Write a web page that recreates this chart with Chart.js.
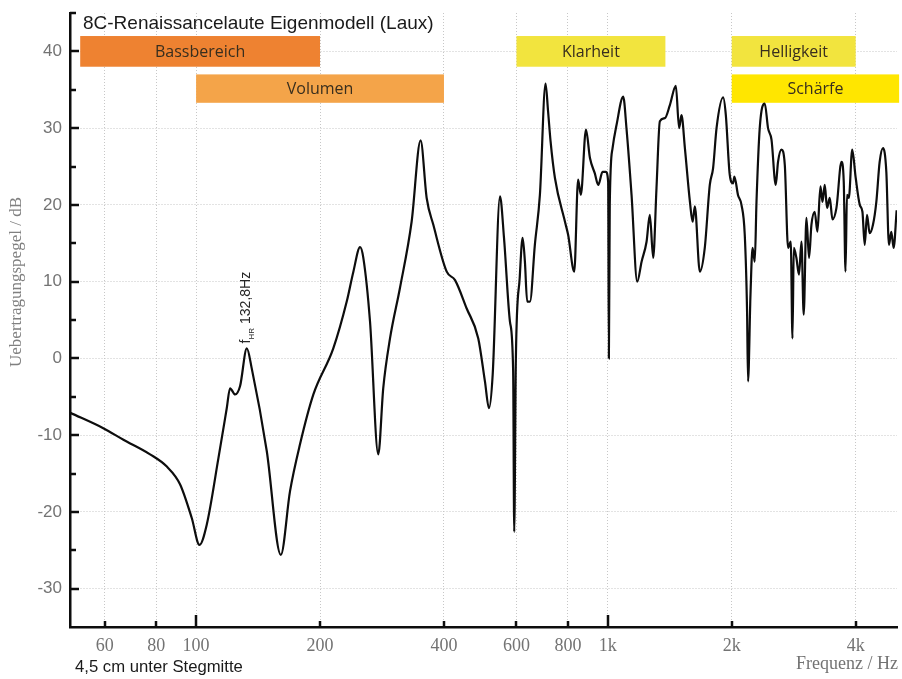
<!DOCTYPE html>
<html>
<head>
<meta charset="utf-8">
<title>8C-Renaissancelaute Eigenmodell (Laux)</title>
<script src="https://cdn.jsdelivr.net/npm/chart.js@4.4.1/dist/chart.umd.min.js"></script>
<style>
  body { margin: 0; background: #fff; }
  canvas { display: block; }
</style>
</head>
<body>
<canvas id="frequenzgang" width="902" height="679"></canvas>
<script>
const black = "hsl(0, 0%, 5%)"  //curve + axes
const grid_grey = "hsl(0, 0%, 78%)"  //dotted grid
const tick_grey = "hsl(0, 0%, 45%)"  //tick labels
const band_text = "hsl(35, 30%, 17%)"  //text in the coloured bars
const band_colors = ["#ee8231", "#f4a449", "#f2e43e", "#f2e43e", "#ffe600"]

//Data
const freq_hz = [
    49.5, 59.5, 66.6, 77.3, 84.9, 91.4, 97.6, 101.9, 106.1, 113.3,
    118.7, 120.9, 124.4, 127.9, 132.8, 136.5, 148.5, 160.6, 169.1, 178.8,
    192.7, 215.4, 232.2, 241, 250.2, 254.8, 264.5, 277, 284.8, 295.8,
    312.8, 333.8, 351, 363.1, 376.9, 406.2, 425.5, 454.2, 484.6, 503,
    514.5, 525.3, 547.2, 559.6, 578.5, 589, 592.5, 598, 611, 621,
    629, 637, 647, 665, 684, 706, 716, 726, 744, 787,
    801, 829, 847, 860, 885, 905, 930, 948, 971, 989,
    1002, 1006, 1011, 1027, 1050, 1090, 1110, 1142, 1179, 1208,
    1242, 1265, 1289, 1313, 1338, 1376, 1415, 1463, 1490, 1510,
    1539, 1583, 1607, 1627, 1673, 1720, 1769, 1802, 1837, 1906,
    1935, 1978, 2015, 2030, 2071, 2112, 2151, 2179, 2191, 2221,
    2247, 2275, 2297, 2339, 2406, 2450, 2498, 2558, 2591, 2641,
    2691, 2741, 2782, 2809, 2830, 2871, 2913, 2954, 2991, 3037,
    3082, 3123, 3181, 3229, 3285, 3322, 3365, 3408, 3460, 3513,
    3592, 3694, 3742, 3779, 3810, 3850, 3923, 4001, 4093, 4154,
    4207, 4262, 4325, 4406, 4490, 4574, 4660, 4748, 4818, 4882,
    4946, 5030
]
const level_db = [
    -7.1, -9.1, -10.6, -12.5, -14.1, -16.4, -20.8, -24.3, -21.7, -13.0,
    -6.5, -3.9, -4.7, -3.6, 1.3, -1.3, -12.1, -25.6, -17.3, -11.2,
    -4.7, 1.3, 7.4, 11.3, 14.5, 13.1, 4.8, -12.5, -3.9, 2.6,
    9.2, 17.8, 28.4, 20.9, 17.4, 11.3, 10.2, 6.5, 2.6, -3.0,
    -6.5, -2.1, 21.1, 15.7, 4.8, -1.7, -22.6, 0.0, 10.5, 15.7,
    12.6, 7.4, 7.4, 14.8, 21.3, 35.8, 32.2, 28.3, 23.5, 17.8,
    16.1, 11.3, 23.3, 21.3, 29.8, 26.1, 24.1, 22.6, 24.3, 24.3,
    23.0, 0.0, 20.0, 27.4, 30.4, 34.1, 30.0, 21.3, 10.0, 12.6,
    15.2, 18.7, 13.1, 22.2, 30.9, 31.3, 33.0, 35.5, 30.0, 31.7,
    27.4, 20.4, 17.8, 19.8, 11.3, 14.4, 22.6, 24.8, 30.0, 34.0,
    31.7, 23.9, 22.8, 23.7, 21.3, 20.0, 16.1, 6.1, -3.0, 8.3,
    14.4, 12.6, 20.4, 30.0, 33.2, 30.0, 28.5, 22.6, 25.6, 27.2,
    25.2, 14.4, 15.2, 2.6, 14.4, 13.1, 10.9, 15.2, 5.7, 18.3,
    13.1, 17.4, 19.1, 16.5, 22.4, 20.4, 22.6, 19.6, 20.9, 18.1,
    19.6, 25.6, 23.0, 11.3, 21.3, 20.9, 27.2, 23.5, 20.0, 19.1,
    14.8, 18.7, 16.3, 17.4, 20.4, 25.6, 27.4, 24.3, 14.8, 16.5,
    14.4, 19.3
]

const x_ticks = [60, 80, 100, 200, 400, 600, 800, 1000, 2000, 4000]
const y_ticks = [-30, -20, -10, 0, 10, 20, 30, 40]
const y_minor_ticks = [-25, -15, -5, 5, 15, 25, 35, 45]

//coloured frequency bands
const band_labels = ["Bassbereich", "Volumen", "Klarheit", "Helligkeit", "Schärfe"]
const band_from_hz = [52.3, 100, 600, 2000, 2000]
const band_to_hz = [200, 400, 1380, 4000, 5100]
const band_low_db = [38, 33.3, 38, 38, 33.3]
const band_high_db = [42, 37, 42, 42, 37]

const resonance_hz = 132.8
const resonance_db = 1.3

// bars, inner tick marks and the loose texts
const extras = {
    id: 'extras',
    beforeDatasetsDraw(chart) {
        const {ctx, scales: {x, y}} = chart
        ctx.save()
        ctx.font = '16px "Open Sans"'
        ctx.textAlign = 'center'
        ctx.textBaseline = 'middle'
        for (let i = 0; i < band_labels.length; i++) {
            const left = x.getPixelForValue(band_from_hz[i])
            const right = x.getPixelForValue(band_to_hz[i])
            const top = y.getPixelForValue(band_high_db[i])
            const bottom = y.getPixelForValue(band_low_db[i])
            ctx.fillStyle = band_colors[i]
            ctx.fillRect(left, top, right - left, bottom - top)
            ctx.fillStyle = band_text
            ctx.fillText(band_labels[i], (left + right) / 2, (top + bottom) / 2 + 1)
        }
        ctx.restore()
    },
    afterDraw(chart) {
        const {ctx, chartArea: area, scales: {x, y}} = chart
        ctx.save()
        ctx.strokeStyle = black
        ctx.lineWidth = 2.5
        ctx.beginPath()
        //y ticks point into the plot
        y_ticks.concat(y_minor_ticks).forEach((v) => {
            const py = Math.round(y.getPixelForValue(v))
            const len = (v % 10 == 0) ? 9 : 6
            ctx.moveTo(area.left, py)
            ctx.lineTo(area.left + len, py)
        })
        //x ticks, longer on the decades
        x_ticks.forEach((v) => {
            const px = Math.round(x.getPixelForValue(v))
            const len = (v == 100 || v == 1000) ? 12 : 6
            ctx.moveTo(px, area.bottom)
            ctx.lineTo(px, area.bottom - len)
        })
        ctx.stroke()

        //title
        ctx.fillStyle = "hsl(0, 0%, 10%)"
        ctx.font = '19px "Liberation Sans"'
        ctx.textAlign = 'left'
        ctx.textBaseline = 'middle'
        ctx.fillText("8C-Renaissancelaute Eigenmodell (Laux)", area.left + 13, 24)

        //under the x axis
        ctx.font = '16.7px "Liberation Sans"'
        ctx.fillText("4,5 cm unter Stegmitte", area.left + 5, 667)
        ctx.fillStyle = tick_grey
        ctx.font = '18px "Liberation Serif"'
        ctx.textAlign = 'right'
        ctx.fillText("Frequenz / Hz", area.right + 1, 664)

        //y axis title
        ctx.save()
        ctx.translate(17, (area.top + area.bottom) / 2 - 38)
        ctx.rotate(-Math.PI / 2)
        ctx.textAlign = 'center'
        ctx.font = '17px "Liberation Serif"'
        ctx.fillStyle = "hsl(0, 0%, 50%)"
        ctx.fillText("Uebertragungspegel / dB", 0, 0)
        ctx.restore()

        //resonance label, rotated
        const rx = x.getPixelForValue(resonance_hz) - 1
        const ry = y.getPixelForValue(resonance_db) - 5
        ctx.save()
        ctx.translate(rx, ry)
        ctx.rotate(-Math.PI / 2)
        ctx.fillStyle = "hsl(0, 0%, 15%)"
        ctx.textAlign = 'left'
        ctx.textBaseline = 'middle'
        ctx.font = '14px "Liberation Sans"'
        ctx.fillText("f", 0, 0)
        const fw = ctx.measureText("f").width
        ctx.font = '8px "Liberation Sans"'
        ctx.fillText("HR", fw, 6)
        const hw = ctx.measureText("HR").width
        ctx.font = '14px "Liberation Sans"'
        ctx.fillText("132,8Hz", fw + hw + 4, 0)
        ctx.restore()

        ctx.restore()
    }
}

function frequency_chart(canvas) {
    new Chart(canvas, {
        type: "line",
        data: {
            datasets: [{
                data: freq_hz.map((f, i) => ({x: f, y: level_db[i]})),
                borderColor: black,
                borderWidth: 2.2,
                pointRadius: 0,
                cubicInterpolationMode: 'monotone',
                fill: false,
            }]
        },
        options: {
            responsive: false,
            animation: false,
            layout: {
                padding: {top: 13, right: 5, left: 0, bottom: 0}
            },
            plugins: {
                legend: {display: false},
                tooltip: {enabled: false},
            },
            scales: {
                x: {
                    type: 'logarithmic',
                    min: 49.4,
                    max: 5040,
                    afterBuildTicks: (scale) => { scale.ticks = x_ticks.map((v) => ({value: v})) },
                    afterFit: (scale) => {
                        scale.height = 52
                        scale.paddingLeft = 0
                        scale.paddingRight = 0
                    },
                    ticks: {
                        autoSkip: false,
                        maxRotation: 0,
                        padding: 8,
                        color: tick_grey,
                        font: {family: 'Liberation Serif', size: 18},
                        callback: (v) => v >= 1000 ? (v / 1000) + 'k' : String(v),
                    },
                    grid: {
                        color: grid_grey,
                        lineWidth: 1,
                        drawTicks: false,
                    },
                    border: {color: black, width: 2.5, dash: [1, 2]},
                },
                y: {
                    min: -35,
                    max: 45,
                    afterBuildTicks: (scale) => { scale.ticks = y_ticks.map((v) => ({value: v})) },
                    afterFit: (scale) => {
                        scale.width = 70
                        scale.paddingTop = 0
                        scale.paddingBottom = 0
                    },
                    ticks: {
                        padding: 8,
                        color: tick_grey,
                        font: {family: 'Liberation Sans', size: 17},
                    },
                    grid: {
                        color: grid_grey,
                        lineWidth: 1,
                        drawTicks: false,
                    },
                    border: {color: black, width: 2.5, dash: [1, 2]},
                }
            }
        },
        plugins: [extras]
    });
}

const canvas = document.getElementById('frequenzgang');
if (canvas) {
    frequency_chart(canvas)
}
</script>
</body>
</html>
